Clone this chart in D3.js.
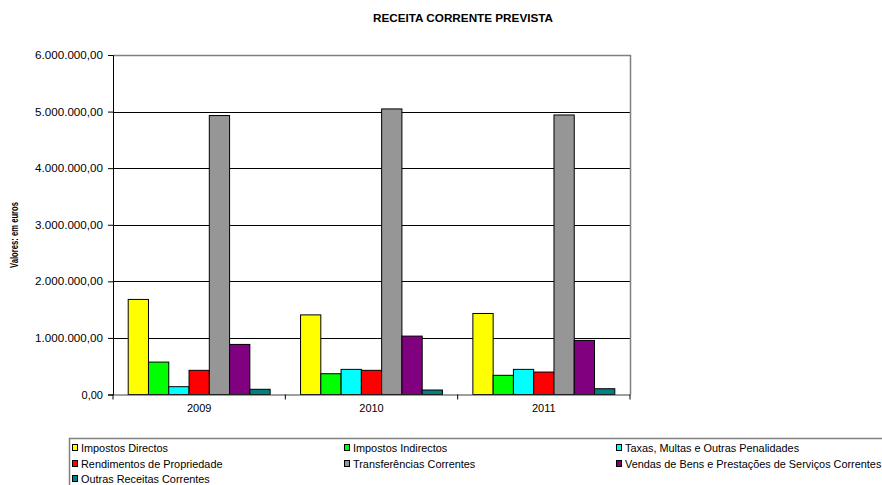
<!DOCTYPE html>
<html><head><meta charset="utf-8">
<script src="https://cdn.jsdelivr.net/npm/d3@7"></script>
<style>body{margin:0;background:#fff}svg{display:block;font-family:"Liberation Sans",Arial,sans-serif}</style>
</head><body><svg id="c" width="882" height="485"></svg>
<script>
const years = ["2009", "2010", "2011"];
const seriesNames = ["Impostos Directos","Impostos Indirectos","Taxas, Multas e Outras Penalidades","Rendimentos de Propriedade","Transferências Correntes","Vendas de Bens e Prestações de Serviços Correntes","Outras Receitas Correntes"];
const seriesColors = ["#FFFF00","#00FF00","#00FFFF","#FF0000","#969696","#800080","#008080"];
const impostosDirectos = [1680000, 1407000, 1432000];
const impostosIndirectos = [573000, 367000, 339000];
const taxasMultas = [138000, 444000, 444000];
const rendimentos = [427000, 427000, 397000];
const transferencias = [4930000, 5047000, 4940000];
const vendas = [885000, 1032000, 956000];
const outras = [92000, 79000, 102000];
const yTicks = [0,1000000,2000000,3000000,4000000,5000000,6000000];
const seriesValues = [impostosDirectos, impostosIndirectos, taxasMultas, rendimentos, transferencias, vendas, outras];

const svg = d3.select("#c");
const L = 113, R = 630, T = 55, B = 394.5;
const x = d3.scaleBand().domain(years).range([L, R]).padding(0);
const xi = d3.scaleBand().domain(d3.range(seriesNames.length)).range([0, x.bandwidth()]).paddingInner(0).paddingOuter(0.75);
const y = d3.scaleLinear().domain([0, 6000000]).range([B, T]);
const loc = d3.formatLocale({decimal:",", thousands:".", grouping:[3], currency:["",""]});
const fmt = loc.format(",.2f");

// title
svg.append("text").attr("x", 373).attr("y", 22)
  .attr("font-weight","bold").attr("font-size", 11)
  .attr("textLength", 180).attr("lengthAdjust","spacingAndGlyphs").text("RECEITA CORRENTE PREVISTA");

// gridlines
svg.append("g").selectAll("line").data(yTicks.filter(d=>d>0 && d<6000000)).join("line")
  .attr("x1", L).attr("x2", R).attr("y1", d=>Math.round(y(d))+0.5).attr("y2", d=>Math.round(y(d))+0.5)
  .attr("stroke","#000").attr("stroke-width",1);
svg.append("path").attr("d", `M${L},${Math.round(T)+0.5}H${R+0.5}V${B}`).attr("fill","none").attr("stroke","#808080").attr("stroke-width",1.5);

// bars
const g = svg.append("g");
seriesValues.forEach((vals, si) => {
  g.selectAll(null).data(vals).join("rect")
    .attr("x", (d,i)=> x(years[i]) + xi(si))
    .attr("y", d=> y(d))
    .attr("width", xi.bandwidth())
    .attr("height", d=> y(0)-y(d))
    .attr("fill", seriesColors[si]).attr("stroke","#000").attr("stroke-width",1);
});

// y axis
const ya = svg.append("g").attr("transform",`translate(${L},0)`)
  .call(d3.axisLeft(y).tickValues(yTicks).tickFormat(fmt).tickSizeOuter(0).tickSize(5).tickPadding(5));
ya.select(".domain").attr("stroke","#000");
ya.selectAll("text").attr("font-size", 11).attr("font-family","Liberation Sans, Arial, sans-serif").attr("fill","#000")
  .attr("textLength", 68).attr("lengthAdjust","spacingAndGlyphs");
ya.selectAll(".tick text").filter(d=>d===0).attr("textLength", null);

// x axis
const xa = svg.append("g").attr("transform",`translate(0,${B})`)
  .call(d3.axisBottom(x).tickSize(0).tickPadding(10));
xa.select(".domain").attr("stroke","#404040");
xa.selectAll("text").attr("font-size", 11).attr("font-family","Liberation Sans, Arial, sans-serif").attr("fill","#000");
svg.append("g").selectAll("line").data([L, ...years.map(d=>x(d)+x.bandwidth())]).join("line")
  .attr("x1", d=>d).attr("x2", d=>d).attr("y1", B).attr("y2", B+5).attr("stroke","#000");

// y label
svg.append("text").attr("transform","translate(18,235) rotate(-90)").attr("text-anchor","middle")
  .attr("font-weight","bold").attr("font-size",10)
  .attr("textLength", 66).attr("lengthAdjust","spacingAndGlyphs").text("Valores: em euros");

// legend
svg.append("rect").attr("x",69.5).attr("y",438.5).attr("width",830).attr("height",60)
  .attr("fill","none").attr("stroke","#808080").attr("stroke-width",1.5);
const colX = [72, 344, 616], rowY = [448, 464, 479];
const lg = svg.append("g").selectAll("g").data(seriesNames).join("g")
  .attr("transform",(d,i)=>`translate(${colX[i%3]},${rowY[Math.floor(i/3)]})`);
lg.append("rect").attr("x",0.5).attr("y",-3.5).attr("width",5).attr("height",6)
  .attr("fill",(d,i)=>seriesColors[i]).attr("stroke","#000").attr("stroke-width",1);
lg.append("text").attr("x",9).attr("y",3.5).attr("font-size",10)
  .attr("transform","scale(1.09,1)").attr("x", 9/1.09).text(d=>d);
</script></body></html>
